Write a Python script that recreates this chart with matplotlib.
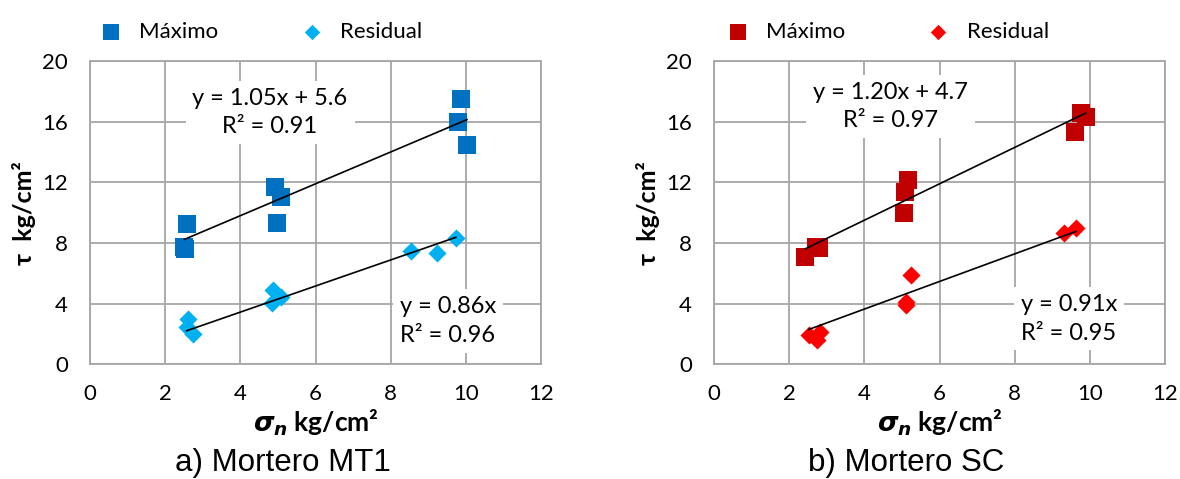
import matplotlib
matplotlib.use("Agg")
import matplotlib.pyplot as plt
import numpy as np

plt.rcParams['font.family'] = ['Lato', 'DejaVu Sans']
plt.rcParams['mathtext.fontset'] = 'custom'
plt.rcParams['mathtext.rm'] = 'Lato:bold'
plt.rcParams['mathtext.it'] = 'DejaVu Sans:italic:bold'
plt.rcParams['mathtext.bf'] = 'DejaVu Sans:italic:bold'

# Mortero MT1
mt1_max_x = [9.88, 9.80, 10.03, 2.57, 2.51, 2.54, 4.92, 5.07, 4.98]
mt1_max_y = [17.5, 15.95, 14.46, 9.23, 7.75, 7.6, 11.71, 11.05, 9.29]
mt1_res_x = [2.61, 2.57, 2.75, 4.86, 4.83, 5.07, 8.55, 9.22, 9.73]
mt1_res_y = [3.0, 2.48, 1.98, 4.9, 4.05, 4.46, 7.49, 7.36, 8.3]
mt1_fit_max = (1.05, 5.6, 0.91)
mt1_fit_res = (0.86, 0.0, 0.96)

# Mortero SC
sc_max_x = [9.76, 9.89, 9.61, 5.15, 5.07, 5.05, 2.43, 2.72, 2.8]
sc_max_y = [16.55, 16.28, 15.33, 12.15, 11.38, 9.95, 7.09, 7.75, 7.7]
sc_res_x = [5.25, 5.12, 5.1, 2.52, 2.83, 2.74, 9.31, 9.63]
sc_res_y = [5.89, 3.91, 4.1, 1.93, 2.15, 1.6, 8.63, 8.96]
sc_fit_max = (1.20, 4.7, 0.97)
sc_fit_res = (0.91, 0.0, 0.95)

xticks = [0, 2, 4, 6, 8, 10, 12]
yticks = [0, 4, 8, 12, 16, 20]

grid_col = '#a6a6a6'


def eq_text(fit):
    m, b, r2 = fit
    if b == 0:
        s = f"y = {m:.2f}x"
    else:
        s = f"y = {m:.2f}x + {b:.1f}"
    return s + f"\nR² = {r2:.2f}"


def panel(ax, mx, my, rx, ry, fmax, fres, cmax, cres, lab_max_pos, lab_res_pos, title, leg_x):
    ax.scatter(mx, my, marker='s', s=170, color=cmax, zorder=3, linewidths=0, label='Máximo')
    ax.scatter(rx, ry, marker='D', s=85, color=cres, zorder=3, linewidths=0, label='Residual')

    for xs, fit in ((mx, fmax), (rx, fres)):
        xx = np.array([min(xs), max(xs)])
        ax.plot(xx, fit[0] * xx + fit[1], color='black', lw=1.2, zorder=4)

    box = dict(facecolor='white', edgecolor='none', pad=5)
    ax.text(*lab_max_pos, eq_text(fmax), ha='center', va='center', fontsize=17,
            linespacing=1.45, bbox=box, zorder=5)
    ax.text(*lab_res_pos, eq_text(fres), ha='left', va='center', fontsize=17,
            linespacing=1.45, bbox=box, zorder=5)

    ax.set_xlim(0, 12)
    ax.set_ylim(0, 20)
    ax.set_xticks(xticks)
    ax.set_yticks(yticks)
    ax.tick_params(axis='x', length=0, labelsize=16, pad=14)
    ax.tick_params(axis='y', length=0, labelsize=16, pad=16)
    ax.grid(True, color=grid_col, lw=1.3)
    ax.set_axisbelow(True)
    for sp in ax.spines.values():
        sp.set_color(grid_col)
        sp.set_linewidth(1.3)

    ax.set_ylabel('τ  kg/cm²', fontsize=18, fontweight='bold', labelpad=4)
    ax.set_xlabel(r'$\sigma_n$ kg/cm²', fontsize=19, fontweight='bold', labelpad=3)
    ax.text(0.427, -0.325, title, transform=ax.transAxes, ha='center', va='center',
            fontsize=22.5, family='Liberation Sans')

    ax.legend(loc='lower center', bbox_to_anchor=(leg_x, 1.005), ncol=2, frameon=False,
              fontsize=16, columnspacing=3.7, handlelength=1.0, handletextpad=0.77,
              scatterpoints=1, borderaxespad=0.4, markerscale=0.85)


fig = plt.figure(figsize=(11.8, 4.79), dpi=100)
ax1 = fig.add_axes([0.0763, 0.2395, 0.3822, 0.6332])
ax2 = fig.add_axes([0.6051, 0.2395, 0.3822, 0.6332])

panel(ax1, mt1_max_x, mt1_max_y, mt1_res_x, mt1_res_y, mt1_fit_max, mt1_fit_res,
      '#0070c0', '#00b0f0', (4.79, 16.6), (8.25, 2.85), 'a) Mortero MT1', 0.379)
panel(ax2, sc_max_x, sc_max_y, sc_res_x, sc_res_y, sc_fit_max, sc_fit_res,
      '#c00000', '#ff0000', (4.69, 17.0), (8.16, 3.0), 'b) Mortero SC', 0.385)

fig.savefig('out.png', dpi=100)
